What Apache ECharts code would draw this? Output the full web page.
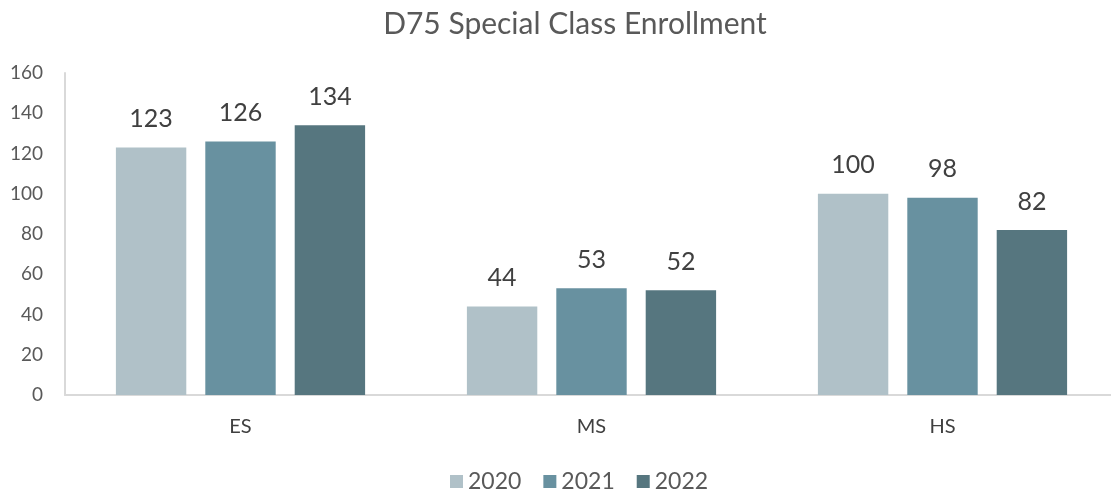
<!DOCTYPE html>
<html>
<head>
<meta charset="utf-8">
<script src="https://cdn.jsdelivr.net/npm/echarts@6/dist/echarts.min.js"></script>
<style>
  html, body { margin: 0; padding: 0; background: #fff; overflow: hidden; }
  #chart { width: 1122px; height: 498px; }
</style>
</head>
<body>
<div id="chart"></div>
<script>
const categories = ['ES', 'MS', 'HS']
const years = ['2020', '2021', '2022']
const values2020 = [123, 44, 100]
const values2021 = [126, 53, 98]
const values2022 = [134, 52, 82]
const colors = ['#b0c1c8', '#6891a0', '#56767f']

const font = 'Lato, "Open Sans", sans-serif'
const chart = echarts.init(document.getElementById('chart'))

function makeSeries(name, data, color) {
  return {
    name,
    type: 'bar',
    data,
    barGap: '27%',
    barCategoryGap: '29%',
    itemStyle: { color },
    label: {
      show: true,
      position: 'top',
      distance: 16,
      color: '#404040',
      fontSize: 25,
      fontFamily: font,
    },
  }
}

chart.setOption({
  animation: false,
  title: {
    text: 'D75 Special Class Enrollment',
    left: 570,
    textAlign: 'center',
    top: 4,
    textStyle: { color: '#595959', fontSize: 30, fontWeight: 'normal', fontFamily: font },
  },
  legend: {
    top: 465,
    left: 445,
    itemWidth: 13,
    itemHeight: 13,
    itemGap: 22,
    icon: 'rect',
    textStyle: { color: '#595959', fontSize: 23, fontFamily: font },
    data: years,
  },
  grid: { left: 65, top: 73, width: 1053, height: 322 },
  xAxis: {
    type: 'category',
    data: categories,
    axisLine: { lineStyle: { color: '#d9d9d9', width: 2 } },
    axisTick: { show: false },
    axisLabel: { color: '#404040', fontSize: 20, fontFamily: font, margin: 22 },
  },
  yAxis: {
    type: 'value',
    min: 0,
    max: 160,
    interval: 20,
    axisLine: { show: true, lineStyle: { color: '#d9d9d9', width: 2 } },
    axisTick: { show: false },
    splitLine: { show: false },
    axisLabel: { color: '#595959', fontSize: 19, fontFamily: font, margin: 22 },
  },
  series: [
    makeSeries(years[0], values2020, colors[0]),
    makeSeries(years[1], values2021, colors[1]),
    makeSeries(years[2], values2022, colors[2]),
  ],
})
</script>
</body>
</html>
